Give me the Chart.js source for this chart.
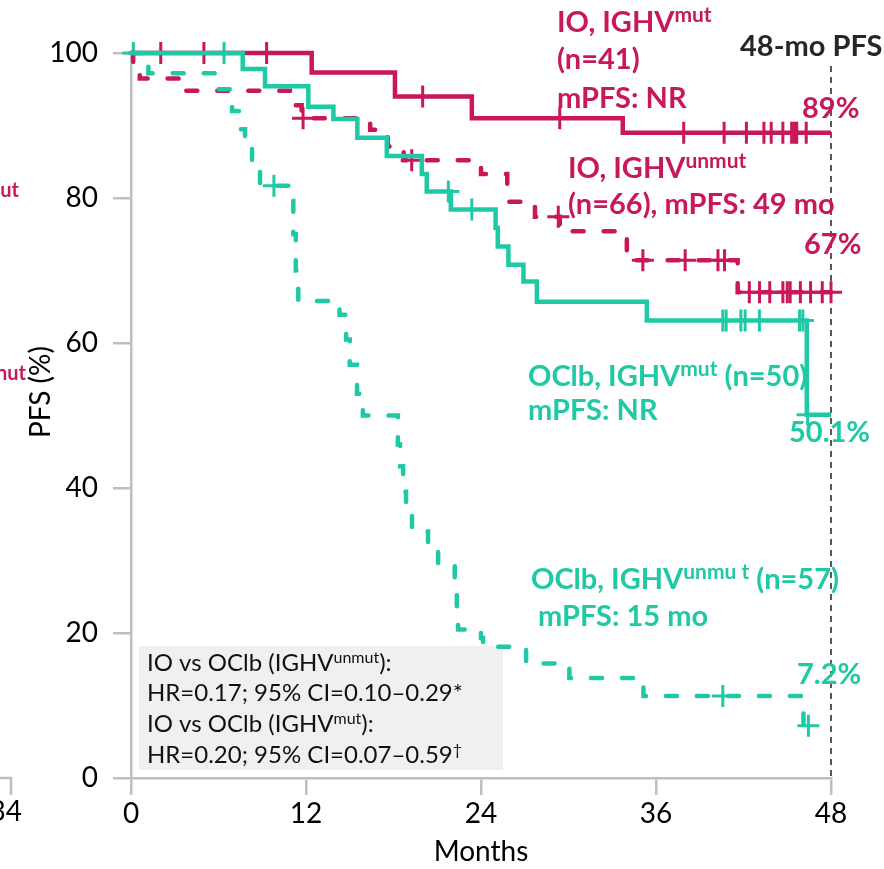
<!DOCTYPE html>
<html>
<head>
<meta charset="utf-8">
<script src="https://cdn.jsdelivr.net/npm/chart.js@4"></script>
<style>
  html, body { margin: 0; padding: 0; background: #fff; }
  canvas { display: block; }
</style>
</head>
<body>
<canvas id="pfsChart" width="884" height="869"></canvas>
<script>
// axis ticks
const xTicks = [0, 12, 24, 36, 48]
const yTicks = [0, 20, 40, 60, 80, 100]

// IO, IGHV mutated (solid magenta)
const ioMutT = [0, 12.39, 18.1, 23.37, 33.72, 48]
const ioMutS = [100, 97.3, 94.0, 91.0, 89, 89]
const ioMutCensor = [2.04, 5.0, 9.3, 20.0, 29.4, 37.9, 40.67, 42.2, 43.4, 43.9, 44.7, 45.3, 45.5, 45.65, 46.3]

// IO, IGHV unmutated (dashed magenta)
const ioUnmutT = [0, 0.15, 0.6, 3.55, 10.9, 11.7, 16.4, 17.6, 18.7, 24.0, 25.8, 27.7, 29.4, 34.0, 41.6, 48]
const ioUnmutS = [100, 98.4, 96.5, 94.8, 92.8, 91.0, 89.4, 87.1, 85.2, 83.3, 79.5, 77.4, 75.4, 71.4, 67, 67]
const ioUnmutCensor = [11.8, 19.25, 29.3, 35.1, 38.0, 40.25, 40.7, 42.4, 43.1, 43.8, 44.7, 45.0, 45.2, 45.9, 46.6, 47.4, 48.0]

// OClb, IGHV mutated (solid teal)
const ocMutT = [0, 7.66, 9.19, 12.16, 13.88, 15.52, 17.54, 19.94, 20.28, 21.93, 25.0, 25.15, 25.88, 26.91, 27.83, 35.37, 46.34, 48]
const ocMutS = [100, 97.8, 95.4, 92.6, 90.9, 88.3, 85.8, 83.3, 80.9, 78.4, 75.9, 73.3, 70.8, 68.5, 65.7, 63.1, 50.1, 50.1]
const ocMutCensor = [0.16, 6.38, 21.76, 23.37, 40.58, 40.81, 41.82, 42.11, 43.09, 45.84, 46.07, 46.4]

// OClb, IGHV unmutated (dashed teal)
const ocUnmutT = [0, 1.19, 5.97, 6.93, 7.5, 7.82, 8.3, 8.85, 10.79, 11.13, 11.3, 11.47, 14.3, 14.75, 15.0, 15.5, 15.9,
  18.3, 18.45, 18.66, 18.86, 19.27, 20.37, 21.06, 22.2, 22.34, 22.43, 24.0, 24.14, 27.09, 30.06, 35.14, 46.11, 47.26]
const ocUnmutS = [100, 97.2, 95.0, 92.0, 89.5, 87.5, 84.1, 81.7, 79.6, 75.0, 70.0, 65.8, 63.9, 60.5, 57.0, 53.0, 50.0,
  46.0, 43.0, 39.5, 36.5, 34.0, 31.5, 29.6, 26.5, 23.5, 20.5, 19.3, 18.1, 15.8, 13.8, 11.3, 7.2, 7.2]
const ocUnmutCensor = [9.8, 40.58, 46.45]

const MAGENTA = "#C9175C"
const TEAL = "#1FC9A5"
const FONT = "Lato"

function stepAt(times, surv, t) {
  let v = surv[0]
  for (let i = 0; i < times.length; i++) if (times[i] <= t) v = surv[i]
  return v
}

// Kaplan-Meier curve: hold each level until the next event, then drop
function kmSet(label, times, surv, color, dashed) {
  return {
    label,
    data: times.map((t, i) => ({ x: t, y: surv[i] })),
    borderColor: color,
    borderWidth: 4.5,
    borderDash: dashed ? [11, 20] : [],
    borderCapStyle: dashed ? "round" : "butt",
    borderJoinStyle: "miter",
    stepped: "before",
    pointRadius: 0,
    fill: false,
    clip: false,
  }
}

// censor crosses sit on the curve at the time they occur
function censorSet(label, times, surv, marks, color) {
  return {
    label,
    data: marks.map((t) => ({ x: t, y: stepAt(times, surv, t) })),
    showLine: false,
    pointStyle: "cross",
    pointRadius: 11,
    pointBorderWidth: 3,
    pointBorderColor: color,
    borderColor: color,
    backgroundColor: color,
    clip: false,
  }
}

function rich(ctx, x, y, parts, size, color, weight, supSize, lift) {
  let cx = x
  ctx.fillStyle = color
  ctx.textAlign = "left"
  ctx.textBaseline = "alphabetic"
  for (const [txt, sup] of parts) {
    ctx.font = `${weight} ${sup ? supSize : size}px ${FONT}`
    ctx.fillText(txt, cx, sup ? y - lift : y)
    cx += ctx.measureText(txt).width
  }
}

const notes = {
  id: "notes",
  beforeDatasetsDraw(chart) {
    const { ctx, scales } = chart
    ctx.save()
    // HR box
    ctx.fillStyle = "#F0F0F0"
    ctx.fillRect(139, 646, 364, 124)
    // 48-month reference line
    const x48 = scales.x.getPixelForValue(48)
    ctx.strokeStyle = "#222"
    ctx.lineWidth = 1.5
    ctx.setLineDash([6, 5])
    ctx.beginPath()
    ctx.moveTo(x48, 66)
    ctx.lineTo(x48, scales.y.getPixelForValue(0))
    ctx.stroke()
    ctx.restore()
  },
  afterDatasetsDraw(chart) {
    const { ctx } = chart
    ctx.save()
    const B = 29, S = 21, L = 10
    rich(ctx, 557, 32, [["IO, IGHV"], ["mut", 1]], B, MAGENTA, "bold", S, L)
    rich(ctx, 557, 69, [["(n=41)"]], B, MAGENTA, "bold", S, L)
    rich(ctx, 557, 108, [["mPFS: NR"]], B, MAGENTA, "bold", S, L)
    rich(ctx, 802, 118, [["89%"]], B, MAGENTA, "bold", S, L)
    rich(ctx, 740, 56, [["48-mo PFS"]], B, "#262626", "bold", S, L)
    rich(ctx, 568, 178, [["IO, IGHV"], ["unmut", 1]], B, MAGENTA, "bold", S, L)
    rich(ctx, 568, 214, [["(n=66), mPFS: 49 mo"]], B, MAGENTA, "bold", S, L)
    rich(ctx, 804, 254, [["67%"]], B, MAGENTA, "bold", S, L)

    rich(ctx, 528, 386, [["OClb, IGHV"], ["mut", 1], [" (n=50)"]], B, TEAL, "bold", S, L)
    rich(ctx, 528, 420, [["mPFS: NR"]], B, TEAL, "bold", S, L)
    rich(ctx, 789, 442, [["50.1%"]], B, TEAL, "bold", S, L)
    rich(ctx, 531, 589, [["OClb, IGHV"], ["unmu t", 1], [" (n=57)"]], B, TEAL, "bold", S, L)
    rich(ctx, 538, 626, [["mPFS: 15 mo"]], B, TEAL, "bold", S, L)
    rich(ctx, 797, 684, [["7.2%"]], B, TEAL, "bold", S, L)

    // hazard ratios
    const R = 24, RS = 16, RL = 8
    rich(ctx, 147, 671, [["IO vs OClb (IGHV"], ["unmut", 1], ["):"]], R, "#111", "normal", RS, RL)
    rich(ctx, 147, 701, [["HR=0.17; 95% CI=0.10\u20130.29*"]], R, "#111", "normal", RS, RL)
    rich(ctx, 147, 732, [["IO vs OClb (IGHV"], ["mut", 1], ["):"]], R, "#111", "normal", RS, RL)
    rich(ctx, 147, 763, [["HR=0.20; 95% CI=0.07\u20130.59"], ["\u2020", 1]], R, "#111", "normal", RS, RL)

    // y title
    ctx.translate(41, 392)
    ctx.rotate(-Math.PI / 2)
    ctx.font = `28px ${FONT}`
    ctx.fillStyle = "#000"
    ctx.textAlign = "center"
    ctx.textBaseline = "middle"
    ctx.fillText("PFS (%)", 0, 0)
    ctx.restore()

    // edge of the neighbouring panel
    ctx.save()
    ctx.fillStyle = MAGENTA
    ctx.font = `bold 20px ${FONT}`
    ctx.textAlign = "right"
    ctx.fillText("ut", 19, 197)
    ctx.fillText("nut", 26, 380)
    ctx.fillStyle = "#000"
    ctx.font = `28px ${FONT}`
    ctx.fillText("34", 22, 821)
    ctx.strokeStyle = "#BFBFBF"
    ctx.lineWidth = 2.5
    ctx.beginPath()
    ctx.moveTo(0, 778)
    ctx.lineTo(11, 778)
    ctx.lineTo(11, 795)
    ctx.stroke()
    ctx.restore()
  },
}

document.addEventListener("DOMContentLoaded", function () {
  const ctx = document.getElementById("pfsChart").getContext("2d")

  new Chart(ctx, {
    type: "line",
    data: {
      datasets: [
        kmSet("OClb, IGHVunmut", ocUnmutT, ocUnmutS, TEAL, true),
        kmSet("OClb, IGHVmut", ocMutT, ocMutS, TEAL, false),
        kmSet("IO, IGHVunmut", ioUnmutT, ioUnmutS, MAGENTA, true),
        kmSet("IO, IGHVmut", ioMutT, ioMutS, MAGENTA, false),
        censorSet("OClb, IGHVunmut censored", ocUnmutT, ocUnmutS, ocUnmutCensor, TEAL),
        censorSet("OClb, IGHVmut censored", ocMutT, ocMutS, ocMutCensor, TEAL),
        censorSet("IO, IGHVunmut censored", ioUnmutT, ioUnmutS, ioUnmutCensor, MAGENTA),
        censorSet("IO, IGHVmut censored", ioMutT, ioMutS, ioMutCensor, MAGENTA),
      ],
    },
    options: {
      responsive: false,
      animation: false,
      devicePixelRatio: 1,
      layout: { padding: { top: 53, right: 53, left: 0, bottom: 0 } },
      plugins: { legend: { display: false }, tooltip: { enabled: false } },
      scales: {
        x: {
          type: "linear",
          min: 0,
          max: 48,
          afterBuildTicks: (s) => { s.ticks = xTicks.map((v) => ({ value: v })) },
          afterFit: (s) => { s.height = 91 },
          grid: { drawOnChartArea: false, drawTicks: true, tickLength: 17, color: "#BFBFBF", lineWidth: 2.5 },
          border: { color: "#BFBFBF", width: 2.5 },
          ticks: { font: { family: FONT, size: 28 }, color: "#000", padding: 2, maxRotation: 0 },
          title: { display: true, text: "Months", font: { family: FONT, size: 28 }, color: "#000", padding: 0 },
        },
        y: {
          min: 0,
          max: 100,
          afterBuildTicks: (s) => { s.ticks = yTicks.map((v) => ({ value: v })) },
          afterFit: (s) => { s.width = 131 },
          grid: { drawOnChartArea: false, drawTicks: true, tickLength: 18, color: "#BFBFBF", lineWidth: 2.5 },
          border: { color: "#BFBFBF", width: 2.5 },
          ticks: { font: { family: FONT, size: 28 }, color: "#000", padding: 15 },
        },
      },
    },
    plugins: [notes],
  })
})
</script>
</body>
</html>
